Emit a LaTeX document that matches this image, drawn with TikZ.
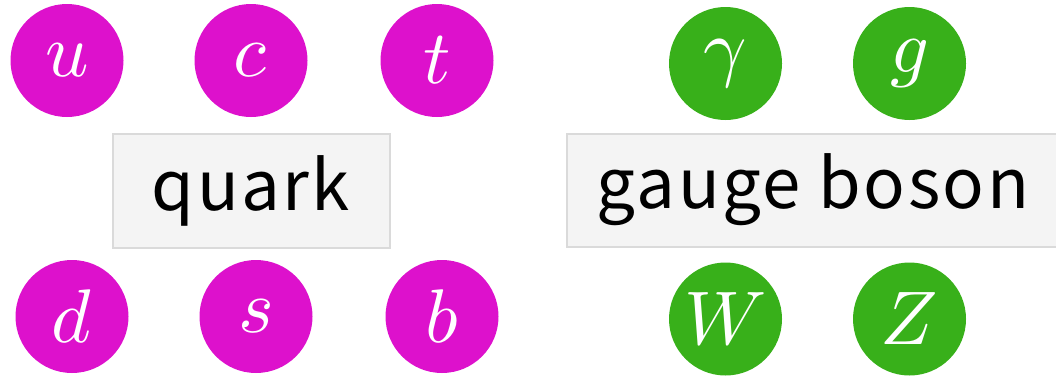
\documentclass[tikz,border=0pt]{standalone}
\usepackage{fontspec}
\usepackage{unicode-math}
\setmathfont{Latin Modern Math}
\newfontfamily\labelfont[LetterSpace=3.5]{Noto Sans CJK JP}
\definecolor{quarkc}{HTML}{DD11CC}
\definecolor{bosonc}{HTML}{38B01A}
\definecolor{boxfill}{HTML}{F4F4F4}
\definecolor{boxline}{HTML}{DADADA}
\begin{document}
\begin{tikzpicture}[x=1pt,y=-1pt,
  particle/.style={circle,minimum size=113pt,inner sep=0pt,text=white,
    font=\fontsize{76}{82}\selectfont},
  quarkp/.style={particle,fill=quarkc},
  bosonp/.style={particle,fill=bosonc},
  group/.style={rectangle,fill=boxfill,draw=boxline,line width=2pt,inner sep=0pt,
    text=black,font=\labelfont\fontsize{69}{76}\selectfont}]
\useasboundingbox (0,0) rectangle (1056,375);
\node[quarkp] (u) at (67,60.5) {$u$};
\node[quarkp] (c) at (251,60.5) {$c$};
\node[quarkp] (t) at (437,60.5) {$t$};
\node[quarkp] (d) at (72,316.5) {$d$};
\node[quarkp] (s) at (256,316.5) {$s$};
\node[quarkp] (b) at (442,316.5) {$b$};
\node[group,minimum width=277pt,minimum height=114pt] (quark) at (251,191) {quark};
\node[bosonp] (gamma) at (725.5,63.5) {$\gamma$};
\node[bosonp] (g) at (909.5,63.5) {$g$};
\node[bosonp] (W) at (725.5,319) {$W$};
\node[bosonp] (Z) at (909.5,319) {$Z$};
\node[group,minimum width=492pt,minimum height=113pt] (gb) at (813,190) {gauge boson};
\end{tikzpicture}
\end{document}
